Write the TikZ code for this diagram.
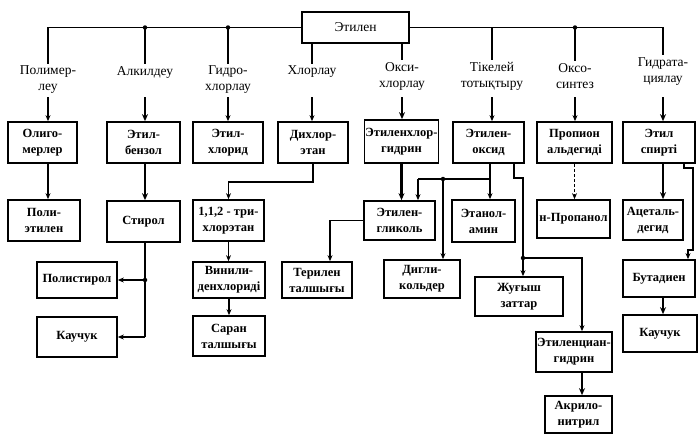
\documentclass[tikz,border=0pt]{standalone}
\usepackage{fontspec}
\setmainfont{Liberation Serif}
\usetikzlibrary{arrows.meta,calc}
\begin{document}
\begin{tikzpicture}[x=1pt,y=-1pt,
  box/.style={draw, line width=1.7pt, align=center, inner sep=1pt,
    font=\fontsize{12.5}{16}\selectfont\bfseries},
  sz/.style 2 args={minimum width=#1pt, minimum height=#2pt},
  lbl/.style={align=center, inner sep=2pt, font=\fontsize{13.5}{16}\selectfont},
  wire/.style={line width=1.3pt},
  heavy/.style={line width=2.3pt},
  arr/.style={wire, -{Stealth[length=6pt,width=5pt]}},
  harr/.style={heavy, -{Stealth[length=7pt,width=6pt]}},
  dot/.style={circle, fill, inner sep=0pt, minimum size=4.5pt},
]
\fill[white] (0,0) rectangle (698,434);
\useasboundingbox (0,0) rectangle (698,434);

% source
\node[box, font=\fontsize{13.5}{16}\selectfont, sz={107}{31}] (eth) at (355.5,27.5) {Этилен};

% process labels
\node[lbl] (lab1) at (48,80)  {Полимер-\\леу};
\node[lbl] (lab2) at (145,72) {Алкилдеу};
\node[lbl] (lab3) at (228,80) {Гидро-\\хлорлау};
\node[lbl] (lab4) at (312,72) {Хлорлау};
\node[lbl] (lab5) at (402,76) {Окси-\\хлорлау};
\node[lbl] (lab6) at (492,76) {Тікелей\\тотықтыру};
\node[lbl] (lab7) at (575,76) {Оксо-\\синтез};
\node[lbl] (lab8) at (663,71.5) {Гидрата-\\циялау};

% first products
\node[box, sz={69}{41}] (olig)   at (42.5,142.5)  {Олиго-\\мерлер};
\node[box, sz={73}{41}] (ebenz)  at (143.5,142.5) {Этил-\\бензол};
\node[box, sz={70}{41}] (echl)   at (228,142.5)   {Этил-\\хлорид};
\node[box, sz={70}{41}] (dichl)  at (313,142.5)   {Дихлор-\\этан};
\node[box, sz={73}{43}] (echg)   at (401.5,141.5) {Этиленхлор-\\гидрин};
\node[box, sz={71}{41}] (eox)    at (488.5,142.5) {Этилен-\\оксид};
\node[box, sz={75}{41}] (prop)   at (574.5,142.5) {Пропион\\альдегиді};
\node[box, sz={72}{41}] (espirt) at (659,142.5)   {Этил\\спирті};

% second products
\node[box, sz={72}{41}] (polieth) at (44,220.5)    {Поли-\\этилен};
\node[box, sz={73}{41}] (styr)    at (143.5,221.5) {Стирол};
\node[box, sz={71}{41}] (trichl)  at (228.5,220.5) {1,1,2 - три-\\хлорэтан};
\node[box, sz={71}{39}] (eglyc)   at (399.5,220.5) {Этилен-\\гликоль};
\node[box, sz={63}{42}] (etam)    at (483.5,221)   {Этанол-\\амин};
\node[box, sz={73}{38}] (npro)    at (573.5,219)   {н-Пропанол};
\node[box, sz={60}{40}] (acet)    at (653,220)     {Ацеталь-\\дегид};

% third products
\node[box, sz={80}{36}] (polyst) at (77,280)    {Полистирол};
\node[box, sz={72}{36}] (vinyl)  at (229,280)   {Винили-\\денхлориді};
\node[box, sz={70}{36}] (teril)  at (317,280)   {Терилен\\талшығы};
\node[box, sz={76}{38}] (digly)  at (422,279)   {Дигли-\\кольдер};
\node[box, sz={88}{39}] (zhug)   at (519,296.5) {Жуғыш\\заттар};
\node[box, sz={72}{37}] (butad)  at (659,278.5) {Бутадиен};

% final products
\node[box, sz={80}{40}] (kauchL) at (77,337)    {Каучук};
\node[box, sz={72}{40}] (saran)  at (229,336)   {Саран\\талшығы};
\node[box, sz={74}{37}] (kauchR) at (660,333.5) {Каучук};
\node[box, sz={76}{40}] (ecyan)  at (574,352)   {Этиленциан-\\гидрин};
\node[box, sz={67}{37}] (acryl)  at (578.5,414.5) {Акрило-\\нитрил};

% bus from ethylene to the processes
\coordinate (busL) at (48,27.5);
\coordinate (busR) at (663,27.5);
\draw[wire] (eth.west) -- (busL) -- (lab1.north);
\draw[wire] (eth.east) -- (busR) -- (lab8.north);
\draw[heavy] (lab2.north |- eth.west) -- (lab2.north);
\draw[wire] (lab3.north |- eth.west) -- (lab3.north);
\draw[wire] (eth.south -| lab4.north) -- (lab4.north);
\draw[wire] (eth.south -| lab5.north) -- (lab5.north);
\draw[wire] (lab6.north |- eth.east) -- (lab6.north);
\draw[wire] (lab7.north |- eth.east) -- (lab7.north);
\node[dot] (d1) at (lab2.north |- eth.west) {};
\node[dot] (d2) at (lab3.north |- eth.west) {};
\node[dot] (d3) at (lab7.north |- eth.east) {};

% process arrows
\coordinate (atop) at (0,97);
\draw[arr]  (lab1.south |- atop) -- (lab1.south |- olig.north);
\draw[harr] (lab2.south |- atop) -- (lab2.south |- ebenz.north);
\draw[arr]  (lab3.south |- atop) -- (lab3.south |- echl.north);
\draw[arr]  (lab4.south |- atop) -- (lab4.south |- dichl.north);
\draw[harr] (lab5.south |- atop) -- (lab5.south |- echg.north);
\draw[arr]  (lab6.south |- atop) -- (lab6.south |- eox.north);
\draw[arr]  (lab7.south |- atop) -- (lab7.south |- prop.north);
\draw[harr] (lab8.south |- atop) -- (lab8.south |- espirt.north);

% polymerisation and alkylation branches
\draw[arr]  (lab1.south |- olig.south) -- (lab1.south |- polieth.north);
\draw[harr] (lab2.south |- ebenz.south) -- (lab2.south |- styr.north);
\draw[heavy] (lab2.south |- styr.south) -- (lab2.south |- kauchL.east);
\draw[arr]  (lab2.south |- polyst.east) -- (polyst.east);
\draw[arr]  (lab2.south |- kauchL.east) -- (kauchL.east);
\node[dot] (d4) at (lab2.south |- polyst.east) {};

% chlorination branch
\draw[arr] (dichl.south) -- ++(0,18) -| (trichl.north);
\draw[arr] (trichl.south) -- (trichl.south |- vinyl.north);
\draw[arr] (vinyl.south) -- (vinyl.south |- saran.north);

% oxychlorination and direct oxidation branches
\draw[harr] (echg.south) -- (echg.south |- eglyc.north);
\coordinate (j1) at (490,179);
\coordinate (j2) at (443,179);
\coordinate (jg) at (418,179);
\draw[heavy] (eox.south -| j1) -- (j1) -- (jg);
\draw[arr] (jg) -- (jg |- eglyc.north);
\draw[arr] (j1) -- (j1 |- etam.north);
\draw[arr] (j2) -- (j2 |- digly.north);
\node[dot] (d5) at (j2) {};
\coordinate (tk) at (330,0);
\draw[arr] (eglyc.west) -- (eglyc.west -| tk) -- (tk |- teril.north);

\coordinate (e1) at (514,178);
\coordinate (e2) at (523,178);
\coordinate (j3) at (523,258);
\coordinate (e3) at (582,258);
\draw[heavy] (eox.south -| e1) -- (e1) -- (e2) -- (j3);
\draw[arr] (j3) -- (j3 |- zhug.north);
\draw[arr] (j3) -- (e3) -- (e3 |- ecyan.north);
\draw[harr] (e3 |- ecyan.south) -- (e3 |- acryl.north);
\node[dot] (d6) at (j3) {};

% oxo synthesis branch
\draw[line width=0.9pt, densely dashed, -{Stealth[length=6pt,width=5pt]}]
  (prop.south) -- (prop.south |- npro.north);

% hydration branch
\draw[harr] (lab8.south |- espirt.south) -- (lab8.south |- acet.north);
\coordinate (b1) at (684,168);
\coordinate (b2) at (693,168);
\coordinate (b3) at (693,250);
\coordinate (b4) at (688,250);
\draw[arr] (espirt.south -| b1) -- (b1) -- (b2) -- (b3) -- (b4) -- (b4 |- butad.north);
\draw[harr] (lab8.south |- butad.south) -- (lab8.south |- kauchR.north);
\end{tikzpicture}
\end{document}
